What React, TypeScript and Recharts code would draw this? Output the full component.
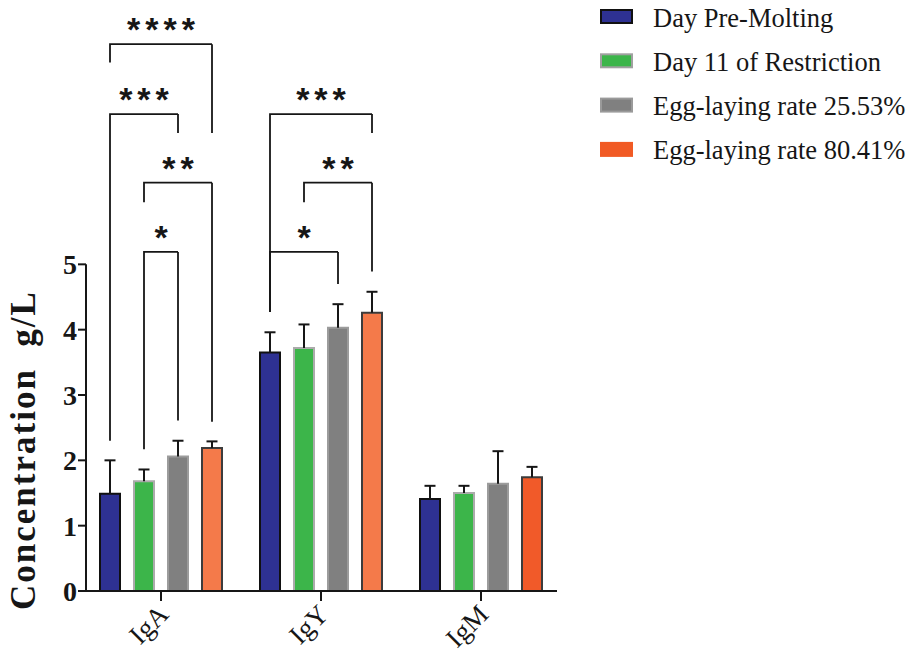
import React from 'react';
import { BarChart, Bar, XAxis, YAxis, ReferenceLine, Cell } from 'recharts';

// ---------- data ----------
const categories = ['IgA', 'IgY', 'IgM'];
const seriesNames = [
  'Day Pre-Molting',
  'Day 11 of Restriction',
  'Egg-laying rate 25.53%',
  'Egg-laying rate 80.41%',
];
const dayPreMolting = [1.49, 3.65, 1.41];
const day11Restriction = [1.68, 3.72, 1.5];
const eggRate2553 = [2.06, 4.03, 1.64];
const eggRate8041 = [2.19, 4.26, 1.74];
const dayPreMoltingSD = [0.51, 0.31, 0.2];
const day11RestrictionSD = [0.18, 0.36, 0.11];
const eggRate2553SD = [0.24, 0.36, 0.5];
const eggRate8041SD = [0.1, 0.32, 0.16];
const yTicks = [0, 1, 2, 3, 4, 5];

// significance brackets: category, bar a -> bar b, bracket level, leg ends, label
const bracketCategory = ['IgA', 'IgA', 'IgA', 'IgA', 'IgY', 'IgY', 'IgY'];
const bracketFrom = [0, 0, 1, 1, 0, 1, 0];
const bracketTo = [3, 2, 3, 2, 3, 3, 2];
const bracketLevel = [8.37, 7.3, 6.25, 5.19, 7.3, 6.25, 5.19];
const bracketLeftEnd = [8.09, 2.3, 5.95, 2.17, 4.27, 5.95, 4.27];
const bracketRightEnd = [7.01, 7.01, 2.59, 2.61, 7.01, 4.89, 4.7];
const bracketLabel = ['****', '***', '**', '*', '***', '**', '*'];

// ---------- style ----------
const seriesMeans = [dayPreMolting, day11Restriction, eggRate2553, eggRate8041];
const seriesSD = [dayPreMoltingSD, day11RestrictionSD, eggRate2553SD, eggRate8041SD];
const seriesFill = ['#2E3192', '#3CB54A', '#808080', '#F47A4A'];
const seriesStroke = ['#111111', '#ABABAB', '#9C9C9C', '#3C3C3C'];
const orangeByCategory = ['#F47A4A', '#F47A4A', '#F15A29'];
const legendFill = ['#2E3192', '#3CB54A', '#808080', '#F15A24'];
const legendStroke = ['#111111', '#A0A0A0', '#9A9A9A', '#F15A24'];

const SERIF = "'Liberation Serif', 'Times New Roman', serif";
const SANS = "'Liberation Sans', Arial, sans-serif";
const INK = '#161616';

const W = 907;
const H = 653;
const PLOT_LEFT = 86;
const PLOT_RIGHT = 557;
const BAND = 160;
const PAD_L = -5;
const PAD_R = -4;
const BAR_SIZE = 20;
const BAR_GAP = 14;
const N_SERIES = seriesMeans.length;

const rows = categories.map((name, i) => {
  const r: any = { name };
  seriesMeans.forEach((arr, k) => {
    r['m' + k] = arr[i];
    r['sd' + k] = seriesSD[k][i];
  });
  return r;
});

// pixel offset of bar k from its category centre (bar slot layout)
const slotOffset = (k: number) => (k - (N_SERIES - 1) / 2) * (BAR_SIZE + BAR_GAP);

const ErrorCap = (props: any) => {
  const { x, y, width, height } = props;
  if (x == null || y == null) return null;
  const cx = x + width / 2;
  return (
    <g>
      <line x1={cx} x2={cx} y1={y} y2={y + height} stroke={INK} strokeWidth={2} />
      <line x1={cx - 5.5} x2={cx + 5.5} y1={y} y2={y} stroke={INK} strokeWidth={2} />
    </g>
  );
};

// left leg + horizontal bar (segment: level -> left end)
const bracketLeft = (i: number) => (p: any) => {
  const xa = p.x1 + slotOffset(bracketFrom[i]);
  const xb = p.x1 + slotOffset(bracketTo[i]);
  return (
    <polyline
      points={`${xa},${p.y2} ${xa},${p.y1} ${xb},${p.y1}`}
      fill="none"
      stroke={INK}
      strokeWidth={1.8}
    />
  );
};

// right leg + stars (segment: level -> right end)
const bracketRight = (i: number) => (p: any) => {
  const xa = p.x1 + slotOffset(bracketFrom[i]);
  const xb = p.x1 + slotOffset(bracketTo[i]);
  return (
    <g>
      <line x1={xb} x2={xb} y1={p.y1} y2={p.y2} stroke={INK} strokeWidth={1.8} />
      <text
        x={(xa + xb) / 2 + 2.5}
        y={p.y1 - 3}
        textAnchor="middle"
        fontFamily={SANS}
        fontWeight="bold"
        fontSize={34}
        fill={INK}
        style={{ letterSpacing: '5px' }}
      >
        {bracketLabel[i]}
      </text>
    </g>
  );
};

// y axis line drawn only over the 0..5 tick range
const yAxisLineShape = (p: any) => {
  const x = p.x1 - BAND / 2 - PAD_L;
  return <line x1={x} x2={x} y1={p.y1} y2={p.y2} stroke={INK} strokeWidth={2} />;
};

const XTick = (props: any) => {
  const { x, y, payload } = props;
  return (
    <g transform={`translate(${x + 9},${y + 13})`}>
      <text textAnchor="end" transform="rotate(-45)" fontFamily={SERIF} fontSize={27} fill={INK}>
        {payload.value}
      </text>
    </g>
  );
};

const YLabel = () => (
  <text
    transform="translate(35,450) rotate(-90)"
    textAnchor="middle"
    fontFamily={SERIF}
    fontWeight="bold"
    fontSize={35}
    fill={INK}
    style={{ letterSpacing: '2px' }}
  >
    {'Concentration\u00A0\u00A0g/L'}
  </text>
);

export default function App() {
  return (
    <div style={{ position: 'absolute', left: 0, top: 0, width: W, height: H, background: '#fff' }}>
      <BarChart
        width={W}
        height={H}
        data={rows}
        margin={{ top: 3, right: W - PLOT_RIGHT, bottom: 12, left: 0 }}
        barSize={BAR_SIZE}
        barGap={BAR_GAP}
      >
        <XAxis
          dataKey="name"
          padding={{ left: PAD_L, right: PAD_R }}
          height={50}
          axisLine={{ stroke: INK, strokeWidth: 2 }}
          tickLine={{ stroke: INK, strokeWidth: 2 }}
          tickSize={10}
          tick={<XTick />}
          interval={0}
        />
        <YAxis
          width={PLOT_LEFT}
          domain={[0, 9]}
          ticks={yTicks}
          allowDataOverflow
          axisLine={false}
          tickLine={{ stroke: INK, strokeWidth: 2 }}
          tickSize={8}
          tickMargin={1}
          tick={{ fontFamily: SERIF, fontWeight: 'bold', fontSize: 28, fill: INK }}
          label={{ content: <YLabel /> }}
        />
        {seriesMeans.map((_, k) => (
          <Bar
            key={'m' + k}
            dataKey={'m' + k}
            name={seriesNames[k]}
            stackId={'s' + k}
            fill={seriesFill[k]}
            stroke={seriesStroke[k]}
            strokeWidth={2}
            isAnimationActive={false}
          >
            {k === 3 ? rows.map((_r, j) => <Cell key={j} fill={orangeByCategory[j]} />) : null}
          </Bar>
        ))}
        {seriesMeans.map((_, k) => (
          <Bar
            key={'sd' + k}
            dataKey={'sd' + k}
            stackId={'s' + k}
            shape={<ErrorCap />}
            legendType="none"
            isAnimationActive={false}
          />
        ))}
        <ReferenceLine
          segment={[{ x: categories[0], y: yTicks[0] }, { x: categories[0], y: yTicks[yTicks.length - 1] }]}
          ifOverflow="visible"
          shape={yAxisLineShape}
        />
        {bracketLabel.map((_lab, i) => (
          <React.Fragment key={'br' + i}>
            <ReferenceLine
              segment={[
                { x: bracketCategory[i], y: bracketLevel[i] },
                { x: bracketCategory[i], y: bracketLeftEnd[i] },
              ]}
              ifOverflow="visible"
              shape={bracketLeft(i)}
            />
            <ReferenceLine
              segment={[
                { x: bracketCategory[i], y: bracketLevel[i] },
                { x: bracketCategory[i], y: bracketRightEnd[i] },
              ]}
              ifOverflow="visible"
              shape={bracketRight(i)}
            />
          </React.Fragment>
        ))}
      </BarChart>
      <svg
        width={W}
        height={200}
        style={{ position: 'absolute', left: 0, top: 0, pointerEvents: 'none' }}
      >
        {seriesNames.map((name, i) => (
          <g key={name}>
            <rect
              x={601}
              y={10 + i * 44.3}
              width={31}
              height={13}
              fill={legendFill[i]}
              stroke={legendStroke[i]}
              strokeWidth={2}
            />
            <text x={653} y={26.5 + i * 44.3} fontFamily={SERIF} fontSize={26.5} fill={INK}>
              {name}
            </text>
          </g>
        ))}
      </svg>
    </div>
  );
}
